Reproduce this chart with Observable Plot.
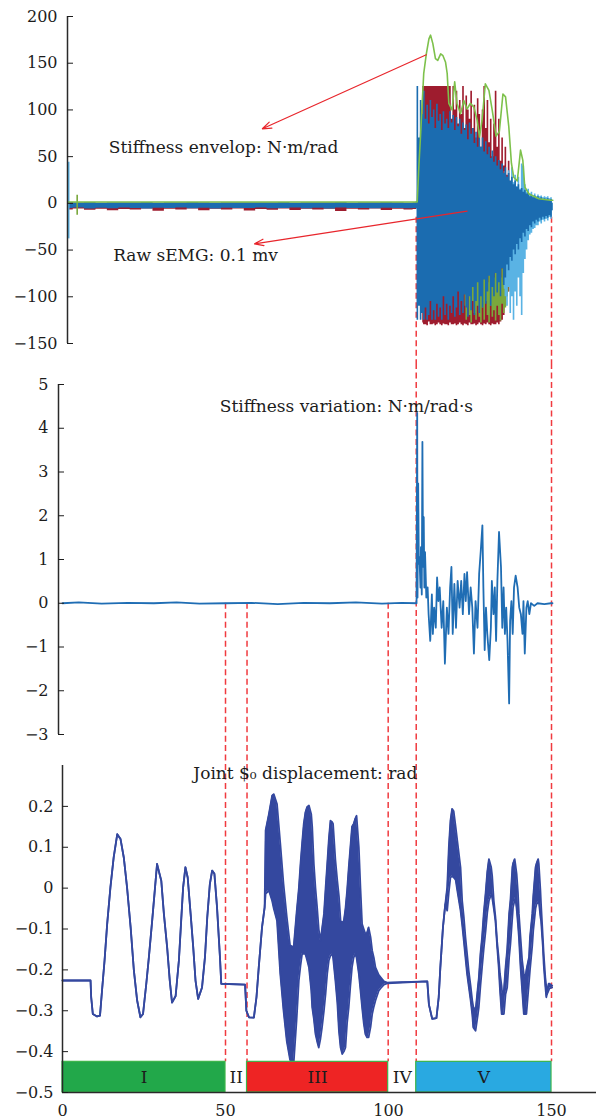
<!DOCTYPE html>
<html><head><meta charset="utf-8">
<script src="https://cdn.jsdelivr.net/npm/d3@7"></script>
<script src="https://cdn.jsdelivr.net/npm/@observablehq/plot@0.6"></script>
<style>
html,body{margin:0;padding:0;background:#fff;}
#chart svg{display:block;}
</style></head><body><div id="chart"></div>
<script>
// ---------------- shared ----------------
const boundaries = [50, 56.6, 99.9, 108.5, 150];
const phaseNames = ["I", "II", "III", "IV", "V"];
const phaseStart = [0, 50, 56.6, 99.9, 108.5];
const phaseEnd   = [50, 56.6, 99.9, 108.5, 150];
const phaseFill  = ["#22a84a", null, "#ee2424", null, "#29a9e1"];
const barBottom = -0.5, barTop = -0.425, barLabelY = -0.4625;

// ---------------- panel 1: raw sEMG + stiffness envelope ----------------
const p1Ticks = [-150, -100, -50, 0, 50, 100, 150, 200];
const baseX     = [1.6, 5, 8.5, 12, 15.5, 19, 22.5, 26, 29.5, 33, 36.5, 40, 43.5, 47, 50.5, 54, 57.5, 61, 64.5, 68, 71.5, 75, 78.5, 82, 85.5, 89, 92.5, 96, 99.5, 103, 106.5, 108.6];
const baseHi    = [0.5, 0.3, 0.6, 0.2, 0.5, 0.4, 0.3, 0.6, 0.2, 0.5, 0.3, 0.6, 0.4, 0.2, 0.5, 0.3, 0.4, 0.5, 0.3, 0.6, 0.2, 0.5, 0.4, 0.3, 0.6, 0.2, 0.5, 0.3, 0.6, 0.4, 0.2, 0.4];
const baseLo    = [-5.5, -5, -6, -5.2, -5.8, -5, -5.5, -6, -5.2, -5.6, -5, -5.8, -5.3, -6, -5.2, -5.6, -5.5, -5.1, -5.9, -5.4, -5, -5.7, -5.3, -6, -5.1, -5.6, -5.4, -5.9, -5.2, -5.5, -5.8, -5.5];
const baseRedLo = [-7, -6, -7.5, -6.2, -8, -6.5, -7, -6, -8.5, -6.4, -7.2, -6, -7.8, -6.3, -7, -6.1, -8.2, -6.5, -7.3, -6, -7.6, -6.4, -7, -6.2, -8.8, -6.3, -7.1, -6, -7.7, -6.4, -7.2, -6.5];
const spikeX = [1.9, 4.5];
const spikeLo = [-38, -12.8];
const spikeHi = [44, 8.6];
const spikeColor = ["#5ab3e4", "#7aa83c"];

const blobX = [108.5,109,109.5,110,110.5,111,111.5,112,112.5,113,
  113.5,114,114.5,115,115.5,116,116.5,117,117.5,118,
  118.5,119,119.5,120,120.5,121,121.5,122,122.5,123,
  123.5,124,124.5,125,125.5,126,126.5,127,127.5,128,
  128.5,129,129.5,130,130.5,131,131.5,132,132.5,133,
  133.5,134,134.5,135,135.5,136,136.5,137,137.5,138,
  138.5,139,139.5,140,140.5,141,141.5,142,142.5,143,
  143.5,144,144.5,145,145.5,146,146.5,147,147.5,148,
  148.5,149,149.5,150,150.5];
const blueTop = [2,125,70,110,95,120,90,105,85,110,
  92,100,80,106,88,95,78,98,85,90,
  80,98,86,94,78,92,82,90,74,86,
  78,84,68,86,74,80,64,76,60,70,
  60,70,55,66,52,60,48,56,44,50,
  40,46,36,42,32,38,28,32,24,28,
  20,24,17,20,14,16,12,14,10,11,
  7,9,6,8,5,7,5,6,4,5,
  4,5,3,4,0];
const blueBot = [-6,-125,-110,-125,-118,-125,-112,-125,-120,-105,
  -125,-115,-125,-108,-122,-112,-125,-100,-120,-108,
  -125,-110,-118,-100,-122,-112,-95,-120,-105,-118,
  -98,-112,-122,-100,-115,-90,-120,-105,-85,-118,
  -100,-112,-82,-108,-95,-78,-110,-90,-100,-75,
  -96,-85,-100,-70,-88,-80,-66,-72,-58,-62,
  -50,-55,-44,-50,-38,-42,-32,-36,-28,-30,
  -24,-26,-20,-22,-18,-20,-16,-18,-15,-17,
  -14,-16,-13,-15,-8];
const redTop = [null,null,null,null,125,125,125,125,125,125,
  125,125,125,125,125,125,125,125,125,125,
  125,125,90,125,100,120,85,110,95,125,
  80,115,100,90,120,80,105,70,112,95,
  60,100,125,80,110,65,90,50,85,120,
  60,90,45,70,40,60,30,45,20,null,
  null,null,null,null,null,null,null,null,null,null,
  null,null,null,null,null,null,null,null,null,null,
  null,null,null,null,null];
const redBot = [null,null,null,null,-128,-130,-130,-131,-127,-130,
  -130,-129,-131,-130,-128,-130,-131,-129,-130,-130,
  -131,-128,-130,-130,-129,-131,-130,-128,-130,-131,
  -129,-130,-131,-128,-130,-130,-129,-131,-130,-128,
  -130,-131,-129,-130,-128,-130,-131,-129,-130,-130,
  -128,-130,-127,-125,-120,-110,-100,-95,-90,null,
  null,null,null,null,null,null,null,null,null,null,
  null,null,null,null,null,null,null,null,null,null,
  null,null,null,null,null];
const oliveTop = [null,null,null,null,null,null,null,null,null,null,
  null,null,null,null,null,null,null,null,null,null,
  null,null,null,null,null,null,null,null,null,null,
  -70,-60,-80,-65,-75,-60,-85,-70,-60,-75,
  -65,-80,-60,-70,-85,-65,-75,-60,-80,-70,
  -75,-65,-80,-70,-85,-75,-90,-80,null,null,
  null,null,null,null,null,null,null,null,null,null,
  null,null,null,null,null,null,null,null,null,null,
  null,null,null,null,null];
const oliveBot = [null,null,null,null,null,null,null,null,null,null,
  null,null,null,null,null,null,null,null,null,null,
  null,null,null,null,null,null,null,null,null,null,
  -110,-125,-100,-120,-128,-105,-118,-125,-110,-122,
  -128,-112,-125,-105,-120,-128,-110,-122,-115,-126,
  -110,-120,-126,-108,-118,-112,-100,-95,null,null,
  null,null,null,null,null,null,null,null,null,null,
  null,null,null,null,null,null,null,null,null,null,
  null,null,null,null,null];
const lightTop = [null,null,null,null,null,null,null,null,null,null,
  null,null,null,null,null,null,null,null,null,null,
  null,null,null,null,null,null,null,null,null,null,
  null,null,null,null,null,null,null,null,null,null,
  null,null,null,null,null,null,null,null,null,null,
  null,null,null,null,34,30,25,35,22,38,
  22,30,18,28,15,42,40,20,12,15,
  10,12,8,10,7,9,7,8,6,7,
  6,7,5,6,0];
const lightBot = [null,null,null,null,null,null,null,null,null,null,
  null,null,null,null,null,null,null,null,null,null,
  null,null,null,null,null,null,null,null,null,null,
  null,null,null,null,null,null,null,null,null,null,
  null,null,null,null,null,null,null,null,null,null,
  null,null,null,null,-92,-100,-110,-90,-118,-100,
  -125,-95,-110,-80,-100,-120,-75,-60,-50,-40,
  -34,-32,-28,-27,-24,-24,-20,-22,-18,-20,
  -17,-19,-15,-17,-8];
const envX = [1.6, 108.6, 108.8, 109.3, 109.8, 110.8, 111.6, 112.4, 112.9, 113.6,
  114.4, 115.1, 116.0, 116.7, 117.5, 118.0, 118.5, 119.5, 120.3, 121.0,
  122.1, 123.1, 124.1, 125.1, 126.2, 127.2, 127.9, 128.7, 129.7, 130.8,
  131.8, 133.0, 134.0, 135.1, 135.9, 136.9, 137.7, 138.4, 139.5, 140.5,
  141.2, 141.8, 143.1, 146.1, 149.7, 150.4];
const envY = [1.4, 1.4, 1.4, 39, 71, 139, 160, 176, 180, 171,
  155, 153, 160, 158, 151, 139, 107, 100, 130, 107,
  96, 110, 101, 107, 103, 89, 71, 89, 128, 121,
  100, 72, 77, 117, 114, 82, 43, 28, 24, 57,
  46, 17.5, 10, 5, 3.4, 3.4];
const p1Labels = ["Stiffness envelop: N·m/rad", "Raw sEMG: 0.1 mv"];
const p1LabelX = [49.4, 40.8];
const p1LabelY = [60, -55.7];
const arrowX1 = [111.6, 124.1], arrowY1 = [159, -8.4];
const arrowX2 = [61.3, 58.9],   arrowY2 = [79.8, -43.3];

// ---------------- panel 2: stiffness variation ----------------
const p2Ticks = [-3, -2, -1, 0, 1, 2, 3, 4, 5];
const stiffBaseX = [0, 5, 12, 20, 28, 35, 42, 50, 58, 66, 74, 82, 90, 98, 104, 108.6];
const stiffBaseY = [0, 0.02, -0.01, 0.01, 0, 0.02, -0.01, 0, 0.01, -0.02, 0.01, 0, 0.02, -0.01, 0.01, 0];
const stiffActX = [108.8, 108.9, 109.1, 109.3, 109.5, 109.8, 109.95, 110.2, 110.4, 110.6,
  110.8, 111.0, 111.2, 111.6, 112.0, 112.3, 112.8, 113.3, 113.6, 114.0,
  114.5, 114.9, 115.3, 115.7, 116.3, 116.8, 117.3, 117.9, 118.4, 118.9,
  119.3, 119.7, 120.2, 120.7, 121.2, 121.8, 122.3, 122.8, 123.3, 123.7,
  124.1, 124.7, 125.2, 125.7, 126.2, 126.7, 127.3, 127.8, 128.3, 128.8,
  129.1, 129.5, 129.9, 130.3, 130.9, 131.4, 131.7, 132.2, 132.6, 133.0,
  133.4, 133.9, 134.5, 134.9, 135.3, 135.7, 136.1, 136.5, 137.0, 137.3,
  137.7, 138.1, 138.5, 139.0, 139.6, 140.1, 140.6, 141.1, 141.4, 141.8,
  142.3, 142.7, 143.2, 143.7, 144.7, 145.7, 147.8, 149.8, 150.3];
const stiffActY = [4.35, 0.13, 2.74, 0.9, 1.06, 0.36, 1.28, 0.2, 3.69, 0.83,
  1.97, 0.36, 1.17, 0.13, 0.36, -0.25, -0.86, 0.2, -0.7, -0.1,
  -0.56, 0.59, 0.05, 0.36, -0.56, 0.05, -1.38, -0.1, -0.7, 0.36,
  0.83, -0.7, 0.44, -0.56, 0.51, -0.1, 0.51, -0.25, 0.67, 0.05,
  0.71, -0.25, 0.36, -0.1, -1.15, 0.05, -0.56, 0.67, 1.2, 1.78,
  0.36, -1.07, -0.1, -0.7, -1.3, -0.56, 0.51, -0.25, 0.36, -0.86,
  0.51, 1.63, 0.83, -0.56, 0.36, -0.7, -0.1, -0.86, -2.29, -0.4,
  0.05, -0.7, 0.36, 0.63, 0.36, -0.1, -0.25, -0.7, 0.05, -1.15,
  -0.1, 0.05, -0.25, 0, -0.06, 0, -0.02, 0, 0];
const p2Label = "Stiffness variation: N·m/rad·s";
const p2LabelX = 87.1, p2LabelY = 4.49;

// ---------------- panel 3: joint S0 displacement ----------------
const p3YTicks = [-0.5, -0.4, -0.3, -0.2, -0.1, 0, 0.1, 0.2];
const p3XTicks = [0, 50, 100, 150];
const thinAX = [0, 8.6, 8.8, 9.3, 10.6, 11.5, 12.2, 12.9, 13.7, 14.7,
  15.7, 16.8, 17.8, 18.8, 19.8, 20.9, 21.9, 22.9, 23.9, 24.7,
  25.7, 26.5, 27.5, 28.3, 29.0, 29.5, 30.3, 31.1, 32.1, 32.9,
  33.6, 34.7, 35.7, 36.4, 37.0, 37.7, 38.4, 39.3, 40.1, 40.8,
  41.6, 42.8, 43.7, 44.4, 45.2, 45.9, 46.6, 47.4, 48.3, 48.7,
  56.0, 56.4, 57.2, 58.7, 59.5, 60.2, 61.2, 62.0];
const thinAY = [-0.226, -0.226, -0.267, -0.308, -0.314, -0.312, -0.243, -0.177, -0.088, 0.002,
  0.075, 0.132, 0.120, 0.075, 0.002, -0.096, -0.202, -0.275, -0.316, -0.308,
  -0.234, -0.169, -0.080, -0.006, 0.059, 0.043, 0.018, -0.063, -0.145, -0.226,
  -0.280, -0.264, -0.177, -0.080, 0.002, 0.051, 0.026, -0.063, -0.145, -0.226,
  -0.271, -0.243, -0.169, -0.072, 0.010, 0.043, 0.035, -0.047, -0.169, -0.234,
  -0.236, -0.300, -0.316, -0.317, -0.267, -0.194, -0.096, -0.047];
const bandIIIX = [62.3, 63.3, 64.3, 64.8, 65.8, 66.8, 67.8, 68.8, 69.8, 70.9,
  71.8, 72.5, 73.0, 73.5, 74.0, 74.5, 75.0, 75.6, 76.3, 76.6,
  77.1, 77.6, 78.1, 78.6, 79.1, 79.6, 80.2, 80.7, 81.2, 81.7,
  82.2, 82.7, 83.0, 83.7, 84.3, 84.8, 85.3, 85.8, 86.3, 86.8,
  87.3, 87.8, 88.3, 88.8, 89.3, 89.8, 90.2, 90.9, 91.4, 91.9,
  92.4, 92.9, 93.4, 93.9, 94.5, 95.0, 95.5, 96.0, 97.0, 97.6,
  98.6, 99.6];
const bandIIILo = [-0.014, -0.006, -0.031, -0.05, -0.080, -0.21, -0.30, -0.375, -0.42, -0.43,
  -0.324, -0.226, -0.19, -0.161, -0.16, -0.161, -0.175, -0.194, -0.25, -0.292,
  -0.32, -0.357, -0.375, -0.390, -0.37, -0.341, -0.30, -0.259, -0.21, -0.177,
  -0.165, -0.161, -0.17, -0.226, -0.28, -0.35, -0.39, -0.406, -0.40, -0.390,
  -0.33, -0.292, -0.24, -0.194, -0.17, -0.161, -0.17, -0.210, -0.25, -0.292,
  -0.33, -0.357, -0.365, -0.365, -0.34, -0.308, -0.29, -0.275, -0.251, -0.245,
  -0.236, -0.233];
const bandIIIHi = [0.141, 0.181, 0.226, 0.230, 0.206, 0.110, 0.010, -0.070, -0.140, -0.145,
  -0.06, 0.0, 0.059, 0.11, 0.157, 0.185, 0.198, 0.202, 0.181, 0.150,
  0.059, 0.0, -0.047, -0.10, -0.129, -0.10, -0.063, 0.0, 0.059, 0.12,
  0.165, 0.162, 0.157, 0.07, 0.018, -0.02, -0.080, -0.085, -0.080, -0.05,
  -0.006, 0.05, 0.10, 0.15, 0.157, 0.170, 0.177, 0.100, 0.0, -0.088,
  -0.10, -0.112, -0.11, -0.096, -0.12, -0.153, -0.17, -0.194, -0.212, -0.218,
  -0.228, -0.231];
const thinBX = [111.9, 112.4, 113.4, 114.7, 115.4, 115.9, 116.7, 117.4];
const thinBY = [-0.228, -0.285, -0.320, -0.318, -0.267, -0.194, -0.096, -0.04];
const bandVX = [118.0, 118.5, 119.0, 119.5, 120.0, 120.6, 121.1, 122.1, 122.6, 123.1,
  123.6, 124.1, 124.6, 125.2, 125.7, 126.0, 126.7, 127.4, 127.7, 128.2,
  128.7, 129.2, 129.8, 130.3, 130.8, 131.5, 131.8, 132.3, 132.8, 133.3,
  133.8, 134.2, 134.7, 134.9, 135.4, 135.9, 136.4, 137.0, 137.4, 138.0,
  138.2, 138.7, 138.9, 139.3, 139.7, 140.0, 140.5, 141.0, 141.5, 142.0,
  142.3, 143.1, 143.4, 144.1, 144.4, 145.1, 145.4, 145.9, 146.1, 146.6,
  146.8, 147.4, 147.6, 148.1, 148.4, 148.6, 149.1, 149.4, 150.2];
const bandVLo = [-0.055, -0.01, 0.026, 0.03, 0.026, 0.02, -0.006, -0.055, -0.09, -0.129,
  -0.17, -0.210, -0.24, -0.275, -0.31, -0.341, -0.349, -0.31, -0.292, -0.24,
  -0.194, -0.15, -0.104, -0.06, -0.031, -0.015, -0.023, -0.05, -0.080, -0.14,
  -0.194, -0.25, -0.308, -0.308, -0.308, -0.26, -0.243, -0.17, -0.137, -0.07,
  -0.047, -0.03, -0.023, -0.05, -0.088, -0.12, -0.194, -0.25, -0.308, -0.308,
  -0.308, -0.23, -0.20, -0.14, -0.104, -0.05, -0.039, -0.035, -0.031, -0.07,
  -0.080, -0.15, -0.186, -0.24, -0.267, -0.26, -0.251, -0.245, -0.243];
const bandVHi = [0.002, 0.10, 0.165, 0.194, 0.188, 0.150, 0.116, 0.05, -0.031, -0.07,
  -0.120, -0.16, -0.202, -0.24, -0.275, -0.29, -0.300, -0.243, -0.22, -0.161,
  -0.12, -0.063, -0.01, 0.04, 0.071, 0.051, 0.03, -0.031, -0.07, -0.129,
  -0.17, -0.210, -0.24, -0.259, -0.25, -0.194, -0.15, -0.063, -0.03, 0.051,
  0.06, 0.071, 0.06, 0.035, -0.01, -0.063, -0.12, -0.177, -0.21, -0.218,
  -0.20, -0.169, -0.12, -0.063, -0.02, 0.051, 0.06, 0.071, 0.06, -0.006,
  -0.04, -0.129, -0.16, -0.218, -0.24, -0.259, -0.234, -0.234, -0.239];
const p3Label = "Joint $₀ displacement: rad";
const p3LabelX = 74.5, p3LabelY = 0.28;

// ---------------- build ----------------
const idx = n => Array.from({length: n}, (_, i) => i);
const fmt = d3.format("~g");
const serif = "DejaVu Serif";
const ink = "#1c1c1c";
const axisColor = "#2a2a2a";
const dash = {stroke: "#f03a3f", strokeWidth: 1.5, strokeDasharray: "6,3.5"};
const darkRed = "#9e1c2e", blobBlue = "#1b6cb0", envGreen = "#7dc14b";
const style = {fontFamily: serif, fontSize: "16px", color: ink, background: "white"};
const W = 596;

// panel 1
const p1x0 = 1.53, p1Y = [-150, 200];
const base = idx(baseX.length), blob = idx(blobX.length);
const p1 = Plot.plot({
  width: W, height: 363, marginLeft: 67, marginRight: 0, marginTop: 16, marginBottom: 20,
  style, color: {type: "identity"},
  x: {domain: [p1x0, 163.8], axis: null},
  y: {domain: p1Y},
  marks: [
    Plot.ruleX(boundaries.slice(3), {y1: -15, y2: p1Y[0], insetBottom: -20, ...dash}),
    Plot.areaY(base, {x: i => baseX[i], y1: i => baseRedLo[i], y2: i => baseHi[i], fill: darkRed, curve: "step"}),
    Plot.areaY(base, {x: i => baseX[i], y1: i => baseLo[i], y2: i => baseHi[i], fill: blobBlue, curve: "step"}),
    Plot.ruleX(idx(spikeX.length), {x: i => spikeX[i], y1: i => spikeLo[i], y2: i => spikeHi[i], stroke: i => spikeColor[i], strokeWidth: 1.6}),
    Plot.areaY(blob, {x: i => blobX[i], y1: i => redBot[i], y2: i => redTop[i], fill: darkRed, curve: "step"}),
    Plot.areaY(blob, {x: i => blobX[i], y1: i => oliveBot[i], y2: i => oliveTop[i], fill: "#7aa83c", curve: "step"}),
    Plot.areaY(blob, {x: i => blobX[i], y1: i => lightBot[i], y2: i => lightTop[i], fill: "#5ab3e4", curve: "step"}),
    Plot.areaY(blob, {x: i => blobX[i], y1: i => blueBot[i], y2: i => blueTop[i], fill: blobBlue, curve: "step"}),
    Plot.line(idx(envX.length), {x: i => envX[i], y: i => envY[i], stroke: envGreen, strokeWidth: 1.6}),
    Plot.arrow(idx(arrowX1.length), {x1: i => arrowX1[i], y1: i => arrowY1[i], x2: i => arrowX2[i], y2: i => arrowY2[i],
      stroke: "#e8262c", strokeWidth: 1.2, headLength: 12, headAngle: 40}),
    Plot.text(idx(p1Labels.length), {x: i => p1LabelX[i], y: i => p1LabelY[i], text: i => p1Labels[i], fontSize: 17, fill: ink}),
    Plot.ruleX([p1x0], {stroke: axisColor, strokeWidth: 1.5}),
    Plot.axisY({ticks: p1Ticks, tickSize: -6, tickPadding: 16, tickFormat: fmt})
  ]
});

// panel 2
const p2x0 = -1.23, p2Y = [-3, 5];
const stiffX = [...stiffBaseX, ...stiffActX];
const stiffY = [...stiffBaseY, ...stiffActY];
const p2 = Plot.plot({
  width: W, height: 382, marginLeft: 58, marginRight: 0, marginTop: 21, marginBottom: 11,
  style,
  x: {domain: [p2x0, 163.8], axis: null},
  y: {domain: p2Y},
  marks: [
    Plot.ruleX(boundaries.slice(3), {y1: p2Y[1], y2: p2Y[0], insetTop: -21, insetBottom: -11, ...dash}),
    Plot.ruleX(boundaries.slice(0, 3), {y1: 0, y2: p2Y[0], insetBottom: -11, ...dash}),
    Plot.line(idx(stiffX.length), {x: i => stiffX[i], y: i => stiffY[i], stroke: "#1f6db4", strokeWidth: 1.8}),
    Plot.text([p2Label], {x: p2LabelX, y: p2LabelY, text: d => d, fontSize: 17, fill: ink}),
    Plot.ruleX([p2x0], {stroke: axisColor, strokeWidth: 1.5}),
    Plot.axisY({ticks: p2Ticks, tickSize: -6, tickPadding: 16, tickFormat: fmt})
  ]
});

// panel 3
const p3Y = [-0.5, 0.3];
const jointX  = [...thinAX, ...bandIIIX, ...thinBX, ...bandVX];
const jointLo = [...thinAY, ...bandIIILo, ...thinBY, ...bandVLo];
const jointHi = [...thinAY, ...bandIIIHi, ...thinBY, ...bandVHi];
const joint = idx(jointX.length);
const jointColor = "#34489f";
const filled = idx(phaseNames.length).filter(i => phaseFill[i]);
const p3 = Plot.plot({
  width: W, height: 374, marginLeft: 62, marginRight: 0, marginTop: 20, marginBottom: 27,
  style, color: {type: "identity"},
  x: {domain: [0, 163.8]},
  y: {domain: p3Y},
  marks: [
    Plot.ruleX(boundaries, {y1: p3Y[1], y2: barTop, insetTop: -20, ...dash}),
    Plot.areaY(joint, {x: i => jointX[i], y1: i => jointLo[i], y2: i => jointHi[i], fill: jointColor}),
    Plot.line(joint, {x: i => jointX[i], y: i => jointLo[i], stroke: jointColor, strokeWidth: 1.8}),
    Plot.line(joint, {x: i => jointX[i], y: i => jointHi[i], stroke: jointColor, strokeWidth: 1.8}),
    Plot.rect(filled, {x1: i => phaseStart[i], x2: i => phaseEnd[i], y1: barBottom, y2: barTop,
      fill: i => phaseFill[i], stroke: "#3cb44a", strokeWidth: 1.2}),
    Plot.text(idx(phaseNames.length), {x: i => (phaseStart[i] + phaseEnd[i]) / 2, y: barLabelY, text: i => phaseNames[i], fontSize: 17, fill: ink}),
    Plot.text([p3Label], {x: p3LabelX, y: p3LabelY, text: d => d, fontSize: 17, fill: ink}),
    Plot.ruleX([0], {stroke: axisColor, strokeWidth: 1.5}),
    Plot.ruleY([-0.5], {stroke: axisColor, strokeWidth: 1.5}),
    Plot.axisY({ticks: p3YTicks, tickSize: -6, tickPadding: 15, tickFormat: fmt}),
    Plot.axisX({ticks: p3XTicks, tickSize: 0, tickPadding: 12, tickFormat: fmt})
  ]
});

document.getElementById("chart").append(p1, p2, p3);
</script></body></html>
